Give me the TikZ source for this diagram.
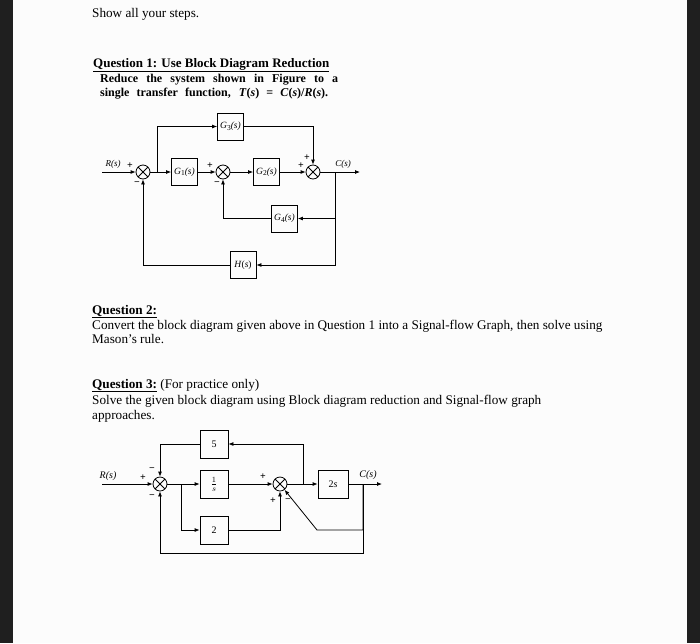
\documentclass[tikz,border=0pt]{standalone}
\usepackage{fontspec}
\setmainfont{Liberation Serif}
\usetikzlibrary{arrows.meta}
\newcommand\Gsub[1]{\textit{G}\raisebox{-0.3ex}{\fontsize{7.5}{7.5}\selectfont #1}\textit{(s)}}
\begin{document}
\begin{tikzpicture}[x=1pt,y=-1pt,
  ln/.style={line width=0.8pt},
  arr/.style={ln,-{Latex[length=5pt,width=4pt]}},
  blk/.style={draw,ln,minimum width=26pt,minimum height=27pt,inner sep=0pt,font=\fontsize{9.5}{10}\selectfont},
  sumj/.style={draw,ln,circle,minimum size=14pt,inner sep=0pt,
    path picture={\draw[ln] (path picture bounding box.north west)--(path picture bounding box.south east)
      (path picture bounding box.north east)--(path picture bounding box.south west);}},
  sgn/.style={font=\fontsize{10}{10}\selectfont\bfseries,inner sep=0pt},
  lbl/.style={font=\fontsize{9}{10}\selectfont\itshape,inner sep=0pt},
  txt/.style={anchor=base west,inner sep=0pt,font=\fontsize{13.2}{15}\selectfont}]
\useasboundingbox (0,0) rectangle (700,643);
\fill[white!99!black] (0,0) rectangle (700,643);
\fill[black!88] (0,0) rectangle (13,643);
\fill[black!88] (687,0) rectangle (700,643);

% ---------- text ----------
\node[txt] (t0) at (92,17) {Show all your steps.};
\node[txt,font=\fontsize{13}{15}\selectfont\bfseries] (t1) at (93,67) {\underline{Question 1: Use Block Diagram Reduction}};
\node[txt,font=\fontsize{12}{14}\selectfont\bfseries] (t2) at (100,82) {\makebox[238pt][s]{Reduce the system shown in Figure to a}};
\node[txt,font=\fontsize{12}{14}\selectfont\bfseries] (t3) at (100,96) {\makebox[228pt][s]{single transfer function, \textit{T}(\textit{s}) = \textit{C}(\textit{s})/\textit{R}(\textit{s}).}};
\node[txt] (t4) at (92,314) {\textbf{\underline{Question 2:}}};
\node[txt] (t5) at (92,329) {Convert the block diagram given above in Question 1 into a Signal-flow Graph, then solve using};
\node[txt] (t6) at (92,343) {Mason’s rule.};
\node[txt] (t7) at (92,388) {\textbf{\underline{Question 3:}} (For practice only)};
\node[txt] (t8) at (92,404) {Solve the given block diagram using Block diagram reduction and Signal-flow graph};
\node[txt] (t9) at (92,419) {approaches.};

% ---------- diagram 1 ----------
\node[sumj] (s1) at (143,172) {};
\node[blk] (g1) at (184.5,172) {\Gsub{1}};
\node[sumj] (s2) at (223,172) {};
\node[blk] (g2) at (266.5,172) {\Gsub{2}};
\node[sumj] (s3) at (313,172) {};
\node[blk] (g3) at (230.5,126.5) {\Gsub{3}};
\node[blk] (g4) at (284.5,218.5) {\Gsub{4}};
\node[blk] (h) at (243,265) {\textit{H}(\textit{s})};
\coordinate (rin) at (102,172);
\coordinate (b1) at (157,172);
\coordinate (bout) at (335,172);
\coordinate (cout) at (360,172);
\node[lbl] (rl) at (113,164) {R(s)};
\node[lbl] (cl) at (343,164) {C(s)};

\draw[arr] (rin) -- (s1);
\draw[arr] (s1) -- (g1);
\draw[arr] (b1) |- (g3);
\draw[arr] (g1) -- (s2);
\draw[arr] (s2) -- (g2);
\draw[arr] (g2) -- (s3);
\draw[arr] (g3) -| (s3);
\draw[arr] (s3) -- (cout);
\draw[arr] (bout) |- (g4);
\draw[arr] (g4) -| (s2);
\draw[arr] (bout) |- (h);
\draw[arr] (h) -| (s1);

\node[sgn] (p1) at (130,166) {+};
\node[sgn] (m1) at (137,184) {−};
\node[sgn] (p2) at (210,166) {+};
\node[sgn] (m2) at (217,184) {−};
\node[sgn] (p3) at (307,158) {+};
\node[sgn] (p4) at (301,166) {+};

% ---------- diagram 2 ----------
\node[sumj] (u1) at (160,484) {};
\node[blk,minimum width=28pt,minimum height=28pt,font=\fontsize{10}{11}\selectfont] (b5) at (214,444) {5};
\node[blk,minimum width=28pt,minimum height=28pt,font=\fontsize{12}{13}\selectfont] (bi) at (214,484) {$\frac{1}{s}$};
\node[blk,minimum width=28pt,minimum height=28pt,font=\fontsize{10}{11}\selectfont] (b2) at (214,530) {2};
\node[sumj] (u2) at (280,484) {};
\node[blk,minimum width=30pt,minimum height=28pt,font=\fontsize{10}{11}\selectfont] (bs) at (333,484) {2\textit{s}};
\coordinate (rin2) at (102,484);
\coordinate (br1) at (181,484);
\coordinate (br2) at (303,484);
\coordinate (bo2) at (363,484);
\coordinate (co2) at (382,484);
\coordinate (d1) at (317,530);
\coordinate (bot) at (363,553);
\node[lbl,font=\fontsize{10}{11}\selectfont\itshape] (rl2) at (108,476) {R(s)};
\node[lbl,font=\fontsize{10}{11}\selectfont\itshape] (cl2) at (368,475) {C(s)};

\draw[arr] (rin2) -- (u1);
\draw[arr] (u1) -- (bi);
\draw[arr] (br1) |- (b2);
\draw[arr] (bi) -- (u2);
\draw[arr] (u2) -- (bs);
\draw[arr] (br2) |- (b5);
\draw[arr] (b5) -| (u1);
\draw[arr] (bs) -- (co2);
\draw[arr] (b2) -| (u2);
\draw[arr] (bo2) |- (d1) -- (u2.-52);
\draw[arr] (bo2) -- (bot) -| (u1);

\node[sgn] (q1) at (143,478) {+};
\node[sgn] (q2) at (152,470) {−};
\node[sgn] (q3) at (152,497) {−};
\node[sgn] (q4) at (263,477) {+};
\node[sgn] (q5) at (273,501) {+};
\node[sgn] (q6) at (288,501) {−};
\end{tikzpicture}
\end{document}
